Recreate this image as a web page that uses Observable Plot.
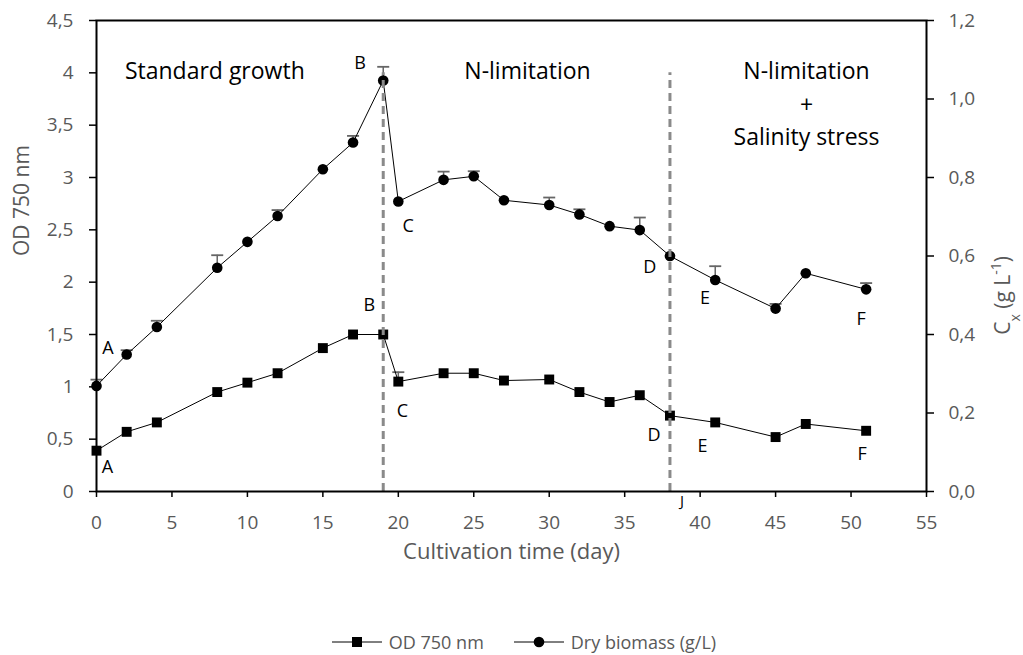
<!DOCTYPE html>
<html><head><meta charset="utf-8">
<script src="https://cdn.jsdelivr.net/npm/d3@7"></script>
<script src="https://cdn.jsdelivr.net/npm/@observablehq/plot@0.6"></script>
<style>
body{margin:0;background:#fff;font-family:"Open Sans",sans-serif;}
#legend{height:34px;display:flex;align-items:center;justify-content:center;padding-left:25px;color:#595959;font-size:18px;font-family:"Open Sans",sans-serif;}
#legend .item{display:flex;align-items:center;margin:0 15px;}
#legend svg{margin-right:7px;}
</style></head><body><div id="chart"></div><div id="legend"></div>
<script>
// ---- data ----
const days = [0,2,4,8,10,12,15,17,19,20,23,25,27,30,32,34,36,38,41,45,47,51];
const od = [0.39,0.57,0.66,0.95,1.04,1.13,1.37,1.50,1.50,1.05,1.13,1.13,1.06,1.07,0.95,0.855,0.92,0.725,0.66,0.52,0.645,0.58];
const odErr = [0,0,0,0,0,0,0,0,0,0.09,0,0,0,0,0,0,0,0,0,0,0,0];
const biomass = [0.269,0.349,0.419,0.570,0.636,0.702,0.821,0.889,1.047,0.739,0.794,0.803,0.742,0.730,0.706,0.676,0.666,0.600,0.539,0.466,0.556,0.515];
const biomassErr = [0.016,0.011,0.016,0.032,0,0.015,0,0.017,0.035,0,0.021,0.013,0,0.019,0.013,0,0.032,0,0.035,0.012,0,0.016];
const labelText = ["A","A","B","B","C","C","D","D","E","E","F","F"];
const labelDay = [0.75,0.72,17.47,18.07,20.65,20.28,36.67,36.95,40.33,40.16,50.67,50.74];
const labelOD = [1.366,0.232,4.096,1.784,2.532,0.767,2.143,0.542,1.851,0.430,1.643,0.353];
const strayText = ["J"];
const strayDay = [38.8];
const strayOD = [-0.096];
const phaseBoundaries = [19, 38];
const phaseBoundaryTop = [4.0, 4.0];
const phaseText = ["Standard growth","N-limitation","N-limitation","+","Salinity stress"];
const phaseDay = [7.84, 28.56, 47.05, 47.05, 47.05];
const phaseOD = [4.01, 4.01, 4.01, 3.69, 3.385];
const xTicks = [0,5,10,15,20,25,30,35,40,45,50,55];
const odTicks = [0,0.5,1,1.5,2,2.5,3,3.5,4,4.5];
const cxTicks = [0,0.2,0.4,0.6,0.8,1.0,1.2];
const odMax = 4.5, cxMax = 1.2, k = odMax / cxMax;
const seriesNames = ["OD 750 nm", "Dry biomass (g/L)"];

// ---- build ----
const rows = days.map((d, i) => ({day: d, od: od[i], odErr: odErr[i], cx: biomass[i], cxErr: biomassErr[i]}));
const labels = labelText.map((t, i) => ({t, day: labelDay[i], od: labelOD[i]}));
const stray = strayText.map((t, i) => ({t, day: strayDay[i], od: strayOD[i]}));
const phases = phaseText.map((t, i) => ({t, day: phaseDay[i], od: phaseOD[i]}));
const bounds = phaseBoundaries.map((d, i) => ({day: d, top: phaseBoundaryTop[i]}));
const capSymbol = {draw(ctx, size) { const r = Math.sqrt(size / Math.PI); ctx.moveTo(-r, 0); ctx.lineTo(r, 0); }};
const cxErrRows = rows.filter(r => r.cxErr > 0);
const odErrRows = rows.filter(r => r.odErr > 0);
const errColor = "#666666";
const comma = v => String(+v.toFixed(2)).replace(".", ",");

const chart = Plot.plot({
  width: 1023, height: 625,
  marginLeft: 96, marginRight: 97, marginTop: 20, marginBottom: 134,
  style: {fontFamily: "'Open Sans', sans-serif", background: "#fff"},
  x: {domain: [0, 55]},
  y: {domain: [0, odMax]},
  marks: [
    // error bars
    Plot.ruleX(cxErrRows, {x: "day", y1: r => r.cx * k, y2: r => (r.cx + r.cxErr) * k, stroke: errColor, strokeWidth: 1.5}),
    Plot.dot(cxErrRows, {x: "day", y: r => (r.cx + r.cxErr) * k, symbol: capSymbol, r: 6, stroke: errColor, strokeWidth: 1.8, fill: "none"}),
    Plot.ruleX(odErrRows, {x: "day", y1: "od", y2: r => r.od + r.odErr, stroke: errColor, strokeWidth: 1.5}),
    Plot.dot(odErrRows, {x: "day", y: r => r.od + r.odErr, symbol: capSymbol, r: 6, stroke: errColor, strokeWidth: 1.8, fill: "none"}),
    // lines
    Plot.line(rows, {x: "day", y: "od", stroke: "black", strokeWidth: 1}),
    Plot.line(rows, {x: "day", y: r => r.cx * k, stroke: "black", strokeWidth: 1}),
    // markers
    Plot.dot(rows, {x: "day", y: "od", symbol: "square", r: 5.6, fill: "black", stroke: "none"}),
    Plot.dot(rows, {x: "day", y: r => r.cx * k, symbol: "circle", r: 5.3, fill: "black", stroke: "none"}),
    // phase boundaries
    Plot.ruleX(bounds, {x: "day", y1: 0, y2: "top", stroke: "#8a8a8a", strokeWidth: 3, strokeDasharray: "8,5"}),
    // frame
    Plot.frame({stroke: "black", strokeWidth: 2}),
    // axes
    Plot.axisX({ticks: xTicks, tickSize: 6, tickPadding: 18, stroke: "black", strokeWidth: 1.5, fill: "#595959", fontSize: 19, label: null, tickFormat: d => String(d)}),
    Plot.axisY({anchor: "left", ticks: odTicks, tickSize: 7, tickPadding: 16, stroke: "black", strokeWidth: 1.5, fill: "#595959", fontSize: 19, label: null, tickFormat: comma}),
    Plot.axisY({anchor: "right", ticks: cxTicks.map(v => v * k), tickSize: 7, tickPadding: 15, stroke: "black", strokeWidth: 1.5, fill: "#595959", fontSize: 19, label: null, tickFormat: v => (v / k).toFixed(1).replace(".", ",")}),
    // titles
    Plot.text(["Cultivation time (day)"], {frameAnchor: "bottom", dy: 67, fontSize: 22, fill: "#595959"}),
    Plot.text(["OD 750 nm"], {frameAnchor: "left", rotate: -90, dx: -74, fontSize: 21, fill: "#595959"}),
    Plot.text(["Cx (g L-1)"], {frameAnchor: "right", rotate: -90, dx: 77, fontSize: 21, fill: "#595959", className: "ytitle-right"}),
    // annotations
    Plot.text(labels, {x: "day", y: "od", text: "t", fontSize: 18, fill: "black"}),
    Plot.text(stray, {x: "day", y: "od", text: "t", fontSize: 15, fill: "black"}),
    Plot.text(phases, {x: "day", y: "od", text: "t", fontSize: 23, fill: "black"})
  ]
});
document.getElementById("chart").appendChild(chart);

// subscript / superscript in right title
const t = d3.select(chart).select("g.ytitle-right text");
t.text(null);
t.append("tspan").text("C");
t.append("tspan").attr("baseline-shift", "sub").attr("font-size", "14px").text("x");
t.append("tspan").text(" (g L");
t.append("tspan").attr("baseline-shift", "super").attr("font-size", "14px").text("-1");
t.append("tspan").text(")");

// legend
const legend = d3.select("#legend");
seriesNames.forEach((name, i) => {
  const item = legend.append("div").attr("class", "item");
  const s = item.append("svg").attr("width", 50).attr("height", 14);
  s.append("line").attr("x1", 0).attr("x2", 50).attr("y1", 7).attr("y2", 7).attr("stroke", "black").attr("stroke-width", 1);
  if (i === 0) s.append("rect").attr("x", 20).attr("y", 2).attr("width", 10).attr("height", 10).attr("fill", "black");
  else s.append("circle").attr("cx", 25).attr("cy", 7).attr("r", 5.3).attr("fill", "black");
  item.append("span").text(name);
});
</script>
</body></html>
